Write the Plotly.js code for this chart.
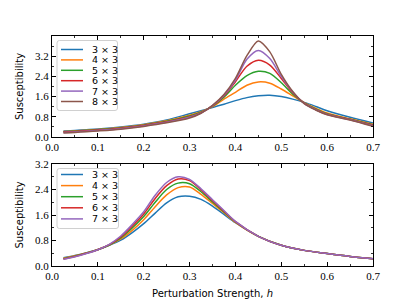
<!DOCTYPE html>
<html>
<head>
<meta charset="utf-8">
<script src="https://cdn.plot.ly/plotly-3.0.1.min.js"></script>
<style>html,body{margin:0;padding:0;background:#fff;}#chart{width:415px;height:299px;}</style>
</head>
<body>
<div id="chart"></div>
<script>
// ---------- data ----------
const hTop = [0.025, 0.05, 0.075, 0.1, 0.15, 0.2, 0.25, 0.3, 0.325, 0.35, 0.375, 0.4, 0.425, 0.45, 0.475, 0.5, 0.525, 0.55, 0.575, 0.6, 0.65, 0.7];
const namesTop = ["3 × 3", "4 × 3", "5 × 3", "6 × 3", "7 × 3", "8 × 3"];
const top3 = [0.24, 0.26, 0.29, 0.32, 0.40, 0.51, 0.67, 0.92, 1.04, 1.17, 1.30, 1.44, 1.56, 1.63, 1.65, 1.60, 1.50, 1.37, 1.21, 1.04, 0.78, 0.55];
const top4 = [0.22, 0.24, 0.27, 0.30, 0.38, 0.49, 0.64, 0.86, 1.00, 1.20, 1.50, 1.77, 2.05, 2.18, 2.13, 1.90, 1.63, 1.36, 1.14, 0.95, 0.72, 0.50];
const top5 = [0.21, 0.23, 0.26, 0.29, 0.36, 0.47, 0.62, 0.83, 0.98, 1.22, 1.58, 2.05, 2.43, 2.60, 2.52, 2.15, 1.70, 1.35, 1.11, 0.92, 0.70, 0.48];
const top6 = [0.20, 0.22, 0.25, 0.28, 0.35, 0.46, 0.60, 0.80, 0.96, 1.23, 1.62, 2.19, 2.80, 3.04, 2.85, 2.32, 1.75, 1.34, 1.09, 0.90, 0.69, 0.46];
const top7 = [0.18, 0.20, 0.23, 0.26, 0.33, 0.44, 0.58, 0.78, 0.95, 1.24, 1.65, 2.25, 3.08, 3.43, 3.11, 2.40, 1.78, 1.33, 1.08, 0.89, 0.68, 0.44];
const top8 = [0.16, 0.18, 0.21, 0.24, 0.31, 0.42, 0.56, 0.75, 0.94, 1.25, 1.68, 2.32, 3.22, 3.80, 3.37, 2.48, 1.80, 1.32, 1.07, 0.88, 0.67, 0.42];

const hBot = [0.025, 0.05, 0.075, 0.1, 0.125, 0.15, 0.175, 0.2, 0.225, 0.25, 0.275, 0.3, 0.325, 0.35, 0.375, 0.4, 0.45, 0.5, 0.55, 0.6, 0.65, 0.7];
const namesBot = ["3 × 3", "4 × 3", "5 × 3", "6 × 3", "7 × 3"];
const bot3 = [0.26, 0.33, 0.42, 0.52, 0.65, 0.81, 1.05, 1.33, 1.66, 1.98, 2.17, 2.19, 2.09, 1.88, 1.62, 1.36, 0.93, 0.65, 0.49, 0.39, 0.30, 0.23];
const bot4 = [0.24, 0.32, 0.41, 0.52, 0.66, 0.85, 1.12, 1.45, 1.86, 2.23, 2.46, 2.48, 2.25, 1.96, 1.67, 1.37, 0.93, 0.65, 0.49, 0.39, 0.30, 0.23];
const bot5 = [0.23, 0.31, 0.40, 0.51, 0.66, 0.88, 1.19, 1.55, 2.00, 2.40, 2.60, 2.58, 2.33, 2.01, 1.70, 1.38, 0.93, 0.65, 0.49, 0.39, 0.30, 0.23];
const bot6 = [0.22, 0.30, 0.40, 0.51, 0.67, 0.91, 1.25, 1.63, 2.12, 2.52, 2.73, 2.68, 2.39, 2.05, 1.72, 1.39, 0.93, 0.65, 0.49, 0.39, 0.30, 0.23];
const bot7 = [0.21, 0.29, 0.39, 0.51, 0.68, 0.94, 1.30, 1.70, 2.22, 2.62, 2.80, 2.72, 2.42, 2.08, 1.74, 1.40, 0.93, 0.65, 0.49, 0.39, 0.30, 0.23];

const xTicks = [0.0, 0.1, 0.2, 0.3, 0.4, 0.5, 0.6, 0.7];
const yTicks = [0.0, 0.8, 1.6, 2.4, 3.2];

// ---------- style ----------
const colors = ["#1f77b4", "#ff7f0e", "#2ca02c", "#d62728", "#9467bd", "#8c564b"];
const W = 415, H = 299, ML = 52, MR = 42, MT = 36, MB = 33;
const PW = W - ML - MR, PH = H - MT - MB;
const px2x = p => (p - ML) / PW;
const px2y = p => (H - MB - p) / PH;

const topSeries = [top3, top4, top5, top6, top7, top8];
const botSeries = [bot3, bot4, bot5, bot6, bot7];

const traces = [];
topSeries.forEach((ys, i) => traces.push({
  x: hTop, y: ys, type: "scatter", mode: "lines", name: namesTop[i],
  line: {color: colors[i], width: 1.5, shape: "spline", smoothing: 0.8},
  xaxis: "x", yaxis: "y", showlegend: false
}));
botSeries.forEach((ys, i) => traces.push({
  x: hBot, y: ys, type: "scatter", mode: "lines", name: namesBot[i],
  line: {color: colors[i], width: 1.5, shape: "spline", smoothing: 0.8},
  xaxis: "x2", yaxis: "y2", showlegend: false
}));

const serif = "Liberation Serif";
const sans = "DejaVu Sans";
const tickFont = {family: serif, size: 11, color: "#000"};
const titleFont = {family: sans, size: 10, color: "#000"};

function xa(anchor, withTitle) {
  const a = {
    anchor: anchor, domain: [0, 1], range: [0, 0.7],
    tickmode: "array",
    tickvals: xTicks, ticktext: xTicks.map(v => v.toFixed(1)),
    ticks: "inside", ticklen: 4, tickwidth: 1, tickcolor: "#000",
    minor: {ticks: "inside", dtick: 0.05, tick0: 0, ticklen: 2, tickwidth: 0.8, tickcolor: "#000"},
    showline: true, linecolor: "#000", linewidth: 1, mirror: "allticks",
    showgrid: false, zeroline: false, tickfont: tickFont
  };
  if (withTitle) a.title = {text: "Perturbation Strength, <i>h</i>", font: titleFont, standoff: 8};
  return a;
}
function ya(anchor, domain, range) {
  return {
    anchor: anchor, domain: domain, range: range,
    tickmode: "array",
    tickvals: yTicks, ticktext: yTicks.map(v => v.toFixed(1)),
    ticks: "inside", ticklen: 4, tickwidth: 1, tickcolor: "#000",
    minor: {ticks: "inside", dtick: 0.4, tick0: 0, ticklen: 2, tickwidth: 0.8, tickcolor: "#000"},
    showline: true, linecolor: "#000", linewidth: 1, mirror: "allticks",
    showgrid: false, zeroline: false, tickfont: tickFont,
    title: {text: "Susceptibility", font: titleFont, standoff: 9}
  };
}

// ---------- manual legends ----------
const shapes = [], annotations = [];
function roundRect(l, t, r, b, rad) {
  const X = p => px2x(p), Y = p => px2y(p);
  return `M${X(l + rad)},${Y(t)} L${X(r - rad)},${Y(t)} Q${X(r)},${Y(t)} ${X(r)},${Y(t + rad)} ` +
         `L${X(r)},${Y(b - rad)} Q${X(r)},${Y(b)} ${X(r - rad)},${Y(b)} L${X(l + rad)},${Y(b)} ` +
         `Q${X(l)},${Y(b)} ${X(l)},${Y(b - rad)} L${X(l)},${Y(t + rad)} Q${X(l)},${Y(t)} ${X(l + rad)},${Y(t)} Z`;
}
function legend(names, boxL, boxT, boxR, boxB, row0, step) {
  shapes.push({type: "path", xref: "paper", yref: "paper", path: roundRect(boxL, boxT, boxR, boxB, 2.5),
    line: {color: "#d0d0d0", width: 1}, fillcolor: "rgba(255,255,255,0.8)", layer: "above"});
  names.forEach((n, i) => {
    const yy = row0 + step * i;
    shapes.push({type: "line", xref: "paper", yref: "paper",
      x0: px2x(61), x1: px2x(83), y0: px2y(yy), y1: px2y(yy),
      line: {color: colors[i], width: 1.5}, layer: "above"});
    annotations.push({xref: "paper", yref: "paper", x: px2x(89.5), y: px2y(yy),
      xanchor: "left", yanchor: "middle", text: n, showarrow: false,
      font: {family: sans, size: 9.5, color: "#000"}});
  });
}
legend(namesTop, 57, 40.5, 117.5, 110.5, 49.5, 10.4);
legend(namesBot, 57, 168.5, 118.5, 228.5, 174.5, 11.1);

const layout = {
  width: W, height: H,
  font: {family: serif, size: 11, color: "#000"},
  margin: {l: ML, r: MR, t: MT, b: MB, pad: 0},
  paper_bgcolor: "#fff", plot_bgcolor: "#fff",
  showlegend: false,
  xaxis: xa("y", false),
  yaxis: ya("x", [px2y(137), 1], [0, 4.0]),
  xaxis2: xa("y2", true),
  yaxis2: ya("x2", [0, px2y(164)], [0, 3.2]),
  shapes: shapes, annotations: annotations
};

Plotly.newPlot("chart", traces, layout, {displayModeBar: false, staticPlot: true});
</script>
</body>
</html>
